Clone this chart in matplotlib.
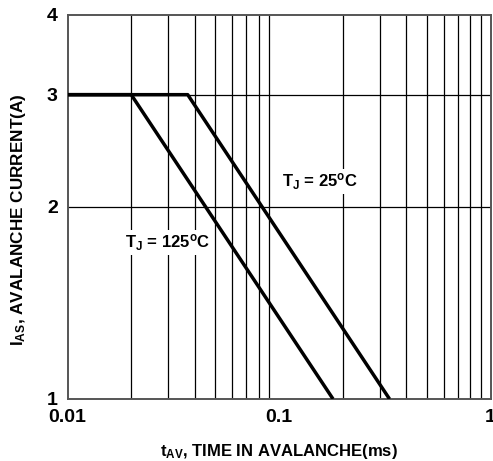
import matplotlib
matplotlib.use('Agg')
import matplotlib.pyplot as plt
from matplotlib.ticker import FixedLocator, NullFormatter, NullLocator

plt.rcParams['font.family'] = ['Liberation Sans', 'DejaVu Sans']
plt.rcParams['font.weight'] = 'bold'
plt.rcParams['axes.labelweight'] = 'bold'
plt.rcParams['mathtext.fontset'] = 'custom'
plt.rcParams['mathtext.rm'] = 'Liberation Sans:bold'
plt.rcParams['mathtext.it'] = 'Liberation Sans:bold'
plt.rcParams['mathtext.bf'] = 'Liberation Sans:bold'

# avalanche curves: time (ms) vs current (A)
t_125 = [0.01, 0.02, 0.18]
i_125 = [3, 3, 1]
t_25 = [0.01, 0.037, 0.333]
i_25 = [3, 3, 1]

x_ticks = [0.01, 0.1, 1]
x_tick_labels = ['0.01', '0.1', '1']
y_ticks = [1, 2, 3, 4]
y_tick_labels = ['1', '2', '3', '4']

fig = plt.figure(figsize=(4.93, 4.61), dpi=100)
ax = fig.add_axes([0.137, 0.1345, 0.858, 0.833])

ax.set_xscale('log')
ax.set_yscale('log')
ax.set_xlim(0.01, 1)
ax.set_ylim(1, 4)

# vertical grid at every decade subdivision
grid_x = [m * d for d in (0.01, 0.1) for m in range(2, 10)]
for gx in grid_x:
    ax.axvline(gx, color='black', linewidth=0.9, zorder=1)
for gy in (2, 3):
    ax.axhline(gy, color='black', linewidth=0.9, zorder=1)

ax.plot(t_125, i_125, color='black', linewidth=2.5, zorder=3, solid_capstyle='butt')
ax.plot(t_25, i_25, color='black', linewidth=2.5, zorder=3, solid_capstyle='butt')

box = dict(facecolor='white', edgecolor='none', pad=1.5)
ax.text(0.0297, 1.76, r'T$_\mathregular{J}$ = 125$^\mathregular{o}$C', fontsize=12,
        ha='center', va='center', bbox=box, zorder=2)
ax.text(0.156, 2.19, r'T$_\mathregular{J}$ = 25$^\mathregular{o}$C', fontsize=12,
        ha='center', va='center', bbox=box, zorder=2)

ax.xaxis.set_major_locator(FixedLocator(x_ticks))
ax.xaxis.set_minor_locator(NullLocator())
ax.set_xticklabels(x_tick_labels)
ax.yaxis.set_major_locator(FixedLocator(y_ticks))
ax.yaxis.set_minor_locator(NullLocator())
ax.yaxis.set_minor_formatter(NullFormatter())
ax.set_yticklabels(y_tick_labels)
ax.tick_params(axis='both', length=0, labelsize=14, pad=7)

for s in ax.spines.values():
    s.set_color('#555555')
    s.set_linewidth(1.4)

ax.set_xlabel(r't$_\mathregular{AV}$, TIME IN AVALANCHE(ms)', fontsize=12, labelpad=12)
ax.set_ylabel(r'I$_\mathregular{AS}$, AVALANCHE CURRENT(A)', fontsize=12.3)
ax.yaxis.set_label_coords(-0.094, 0.466)

fig.savefig('out.png', dpi=100)
